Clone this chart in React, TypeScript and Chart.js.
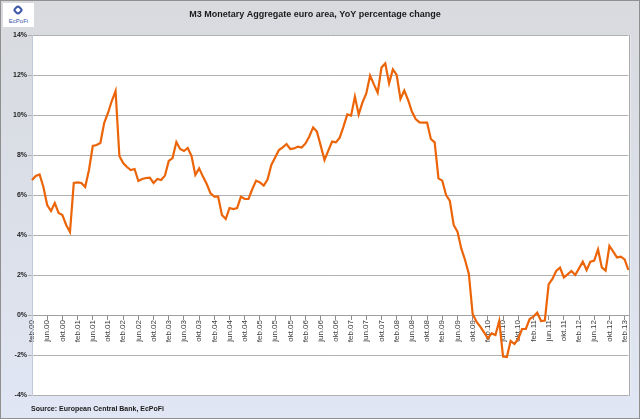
import React, { useEffect, useRef } from "react";
import { Chart, registerables } from "chart.js";

Chart.register(...registerables);

// Month labels (Dutch abbreviations) and series start
const monthNames = ["jan", "feb", "mrt", "apr", "mei", "jun", "jul", "aug", "sep", "okt", "nov", "dec"];
const startYear = 2000;
const startMonthIndex = 1; // feb.00

// M3 YoY % change (2000 starts in February, 2013 ends in March)
const m3_2000 = [6.75, 6.95, 7.03, 6.4, 5.5, 5.2, 5.6, 5.1, 5.0, 4.5, 4.15];
const m3_2001 = [6.6, 6.63, 6.6, 6.4, 7.25, 8.45, 8.5, 8.6, 9.6, 10.1, 10.7, 11.2];
const m3_2002 = [7.95, 7.6, 7.4, 7.25, 7.3, 6.7, 6.8, 6.85, 6.87, 6.6, 6.8, 6.75];
const m3_2003 = [6.97, 7.7, 7.85, 8.65, 8.3, 8.2, 8.35, 7.95, 7.0, 7.33, 6.92, 6.55];
const m3_2004 = [6.08, 5.92, 5.92, 5.0, 4.8, 5.35, 5.3, 5.35, 5.92, 5.8, 5.8, 6.3];
const m3_2005 = [6.72, 6.63, 6.47, 6.77, 7.5, 7.88, 8.25, 8.38, 8.55, 8.3, 8.33, 8.42];
const m3_2006 = [8.37, 8.58, 8.93, 9.38, 9.17, 8.47, 7.75, 8.22, 8.67, 8.63, 8.87, 9.42];
const m3_2007 = [10.03, 9.97, 10.92, 10.03, 10.63, 11.08, 11.97, 11.53, 11.12, 12.37, 12.58, 11.58];
const m3_2008 = [12.28, 12.0, 10.8, 11.22, 10.75, 10.17, 9.8, 9.63, 9.62, 9.62, 8.8, 8.63];
const m3_2009 = [6.83, 6.72, 6.0, 5.7, 4.5, 4.17, 3.33, 2.75, 2.05, 0.05, -0.33, -0.58];
const m3_2010 = [-0.87, -1.17, -0.92, -1.0, -0.3, -2.08, -2.1, -1.3, -1.45, -1.2, -0.7, -0.7];
const m3_2011 = [-0.2, -0.08, 0.12, -0.3, -0.28, 1.53, 1.8, 2.2, 2.37, 1.88, 2.03, 2.2];
const m3_2012 = [2.0, 2.33, 2.67, 2.25, 2.67, 2.72, 3.28, 2.38, 2.22, 3.45, 3.17, 2.88];
const m3_2013 = [2.92, 2.78, 2.25];

// Y axis range (percent)
const yMin = -4;
const yMax = 14;
const yStep = 2;
const labelEvery = 4;

const title = "M3 Monetary Aggregate euro area, YoY percentage change";
const source = "Source: European Central Bank, EcPoFi";

const values = [
  ...m3_2000, ...m3_2001, ...m3_2002, ...m3_2003, ...m3_2004, ...m3_2005, ...m3_2006,
  ...m3_2007, ...m3_2008, ...m3_2009, ...m3_2010, ...m3_2011, ...m3_2012, ...m3_2013,
];

const labels = values.map((_, i) => {
  const m = startMonthIndex + i;
  const y = startYear + Math.floor(m / 12);
  return monthNames[m % 12] + "." + String(y % 100).padStart(2, "0");
});

const plotBackground = {
  id: "plotBackground",
  beforeDraw(chart: any) {
    const { ctx, chartArea: a } = chart;
    ctx.save();
    ctx.fillStyle = "#ffffff";
    ctx.fillRect(a.left, a.top, a.right - a.left + 2, a.bottom - a.top);
    ctx.strokeStyle = "#A9A9A9";
    ctx.lineWidth = 1;
    ctx.beginPath();
    ctx.moveTo(Math.round(a.right) + 1.5, a.top);
    ctx.lineTo(Math.round(a.right) + 1.5, a.bottom + 1);
    ctx.stroke();
    ctx.restore();
  },
};

export default function App() {
  const canvasRef = useRef<HTMLCanvasElement | null>(null);

  useEffect(() => {
    document.body.style.margin = "0";
    const canvas = canvasRef.current;
    if (!canvas) return;
    const chart = new Chart(canvas, {
      type: "line",
      data: {
        labels,
        datasets: [
          {
            data: values,
            borderColor: "#EC6408",
            borderWidth: 2.2,
            pointRadius: 0,
            tension: 0,
            fill: false,
          },
        ],
      },
      options: {
        animation: false,
        responsive: false,
        devicePixelRatio: 1,
        layout: { padding: { left: 0, right: 10, top: 0, bottom: 23 } },
        plugins: {
          legend: { display: false },
          tooltip: { enabled: false },
          title: {
            display: true,
            text: title,
            color: "#1a1a1a",
            font: { family: "'Liberation Sans', Arial, sans-serif", size: 9, weight: "bold" },
            padding: { top: 8, bottom: 15.2 },
          },
        },
        scales: {
          x: {
            type: "category",
            position: { y: 0 } as any,
            offset: false,
            grid: {
              drawOnChartArea: false,
              drawTicks: true,
              tickLength: 4,
              tickColor: (c: any) => (c.index % labelEvery === 0 ? "#8C8C8C" : "rgba(0,0,0,0)"),
            },
            border: { display: true, color: "#A0A0A0", width: 1 },
            ticks: {
              autoSkip: false,
              maxRotation: 90,
              minRotation: 90,
              padding: 1,
              color: "#3a3a3a",
              font: { family: "'Liberation Sans', Arial, sans-serif", size: 8 },
              callback: (_v: any, i: number) => (i % labelEvery === 0 ? labels[i] : ""),
            },
            afterFit: (s: any) => {
              s.height = 0;
            },
          },
          y: {
            min: yMin,
            max: yMax,
            grid: { color: "#B0B0B0", lineWidth: 1, tickLength: 4, drawTicks: true },
            border: { display: true, color: "#C3C9D6", width: 1 },
            ticks: {
              stepSize: yStep,
              padding: 1,
              color: "#222222",
              font: { family: "'Liberation Sans', Arial, sans-serif", size: 7, weight: "bold" },
              callback: (v: any) => v + "%",
            },
            afterFit: (s: any) => {
              s.width = 31;
            },
          },
        },
      },
      plugins: [plotBackground],
    });
    return () => chart.destroy();
  }, []);

  return (
    <div
      style={{
        position: "relative",
        width: 640,
        height: 419,
        boxSizing: "border-box",
        border: "1px solid #8F8F8F",
        background: "linear-gradient(to bottom, #D8DADE 0%, #DBDFE8 50%, #E0E6F4 100%)",
        overflow: "hidden",
        fontFamily: "'Liberation Sans', Arial, sans-serif",
      }}
    >
      <canvas
        ref={canvasRef}
        width={638}
        height={417}
        style={{ position: "absolute", left: 0, top: 0, width: 638, height: 417 }}
      />
      <div
        style={{
          position: "absolute",
          left: 2,
          top: 2,
          width: 31,
          height: 24,
          background: "#ffffff",
          textAlign: "center",
        }}
      >
        <div
          style={{
            position: "absolute",
            left: 11,
            top: 3,
            width: 8,
            height: 8,
            border: "2px solid #3B55A8",
            borderRadius: 3,
            transform: "rotate(45deg)",
            boxSizing: "border-box",
          }}
        />
        <div
          style={{
            position: "absolute",
            left: 0,
            top: 15,
            width: 31,
            fontSize: 6,
            lineHeight: "7px",
            color: "#3B55A8",
          }}
        >
          EcPoFi
        </div>
      </div>
      <div
        style={{
          position: "absolute",
          left: 30,
          top: 403,
          fontSize: 7,
          fontWeight: "bold",
          color: "#1a1a1a",
          lineHeight: "10px",
          whiteSpace: "nowrap",
        }}
      >
        {source}
      </div>
    </div>
  );
}
